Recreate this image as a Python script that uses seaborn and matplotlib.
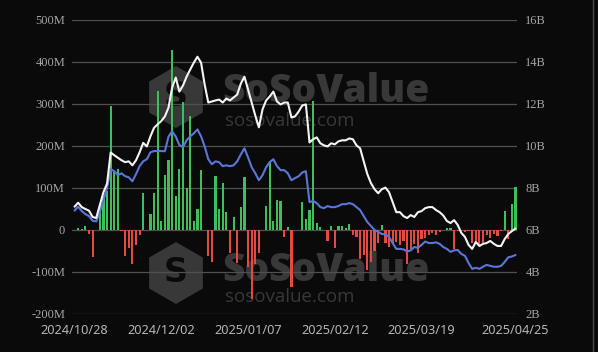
import numpy as np
import pandas as pd
import matplotlib
matplotlib.use('Agg')
import matplotlib.pyplot as plt
from matplotlib.patches import RegularPolygon
from matplotlib.lines import Line2D
import seaborn as sns

# trading days (US market holidays removed)
holidays = ['2024-11-28', '2024-12-25', '2025-01-01', '2025-01-09',
            '2025-01-20', '2025-02-17', '2025-04-18']
dates = pd.bdate_range('2024-10-28', '2025-04-25', freq='C', holidays=holidays)

# daily net flow, M USD
daily_flow = [-1, 4, 2, 10, -10, -64, 0, 62, 80, 92,
              295, 137, 145, -2, -61, -43, -82, -35, -13, 89,
              0, 38, 87, 332, 22, 130, 167, 429, 81, 146,
              305, 100, 271, 21, 49, 142, 0, -61, -76, 129,
              50, 113, 44, -55, 32, -79, 55, 126, -88, -165,
              -82, -55, 0, 58, 164, 22, 71, 68, -16, 8,
              -136, 0, 0, 66, 26, 48, 307, 16, 6, 0,
              -25, 10, -44, 10, 10, 5, 15, -12, -16, -70,
              -60, -95, -75, -50, -30, 12, -30, -40, -33, -28,
              -35, -25, -80, -45, -33, -55, -22, -18, -12, -8,
              -13, -5, 0, 4, 4, -45, -3, 0, -5, -3,
              -30, -25, -38, -30, -12, -20, -10, -15, -3, 45,
              -22, 62, 102]

# total net assets, B USD
total_assets = [7.11, 7.30, 7.09, 7.00, 6.92, 6.62, 6.57, 7.19, 7.80, 8.21,
                9.69, 9.56, 9.44, 9.32, 9.23, 9.27, 9.08, 9.32, 9.70, 10.15,
                9.98, 10.46, 10.87, 11.03, 11.19, 11.41, 11.83, 12.78, 13.26, 12.59,
                12.88, 13.30, 13.64, 13.97, 14.25, 13.97, 12.92, 12.07, 12.12, 12.17,
                12.21, 12.07, 12.26, 12.17, 12.31, 12.45, 12.97, 13.30, 12.69, 12.07,
                11.45, 10.89, 11.74, 12.17, 12.36, 12.59, 12.12, 11.98, 12.07, 12.07,
                11.36, 11.41, 11.64, 11.93, 11.98, 10.17, 10.32, 10.41, 10.13, 10.03,
                9.98, 10.13, 10.08, 10.22, 10.27, 10.27, 10.36, 10.32, 10.03, 9.89,
                9.27, 8.66, 8.23, 7.94, 7.75, 7.94, 8.02, 7.80, 7.33, 6.85,
                6.85, 6.66, 6.57, 6.71, 6.62, 6.85, 6.90, 7.04, 7.09, 7.09,
                6.95, 6.85, 6.69, 6.43, 6.33, 6.47, 6.24, 5.86, 5.67, 5.29,
                5.10, 5.43, 5.24, 5.34, 5.38, 5.48, 5.34, 5.24, 5.24, 5.57,
                5.81, 5.95, 6.07]

# cumulative net inflow, B USD
cum_inflow = [6.92, 7.11, 6.90, 6.76, 6.66, 6.44, 6.41, 6.85, 7.42, 7.99,
              8.89, 8.80, 8.61, 8.70, 8.56, 8.51, 8.32, 8.66, 9.04, 9.27,
              9.37, 9.70, 9.76, 9.76, 9.76, 9.75, 10.45, 10.70, 10.45, 10.05,
              9.94, 10.27, 10.46, 10.60, 10.79, 10.46, 9.98, 9.37, 9.13, 9.27,
              9.23, 9.04, 9.08, 9.04, 9.08, 9.27, 9.60, 9.89, 9.46, 8.99,
              8.70, 8.37, 8.61, 8.99, 9.23, 9.37, 9.04, 8.85, 8.85, 8.70,
              8.37, 8.47, 8.56, 8.74, 8.80, 7.33, 7.38, 7.28, 7.09, 7.04,
              7.14, 7.09, 7.09, 7.14, 7.23, 7.23, 7.28, 7.23, 7.09, 6.95,
              6.66, 6.38, 6.19, 6.00, 5.91, 5.81, 5.79, 5.67, 5.38, 5.10,
              5.10, 5.08, 4.98, 5.03, 5.19, 5.15, 5.29, 5.45, 5.38, 5.38,
              5.41, 5.34, 5.19, 5.10, 4.96, 5.03, 5.05, 4.86, 4.77, 4.43,
              4.15, 4.20, 4.15, 4.25, 4.34, 4.29, 4.25, 4.25, 4.29, 4.48,
              4.70, 4.74, 4.81]

left_ticks = [-200, -100, 0, 100, 200, 300, 400, 500]
left_labels = ['-200M', '-100M', '0', '100M', '200M', '300M', '400M', '500M']
right_ticks = [2, 4, 6, 8, 10, 12, 14, 16]
right_labels = ['2B', '4B', '6B', '8B', '10B', '12B', '14B', '16B']
label_idx = [0, 24, 48, 72, 96, 122]

bg = '#0a0a0a'
green = '#3fbf5a'
red = '#e5493f'
blue = '#5a76d6'
white = '#f4f4f4'
wm = '#383838'

sns.set_theme(style='dark', rc={'axes.facecolor': bg, 'figure.facecolor': bg})

fig = plt.figure(figsize=(5.98, 3.52), dpi=100, facecolor=bg)
ax = fig.add_axes([72/598, 1-314/352, (517-72)/598, (314-20)/352])
ax.set_facecolor('none')

# watermark behind the data
for cy, ty1, ty2 in [(97, 0.710, 0.642), (273, 0.203, 0.142)]:
    hexa = RegularPolygon((1.76, (352-cy)/100), numVertices=6, radius=0.31,
                          transform=fig.dpi_scale_trans, facecolor=wm, edgecolor='none', zorder=-2)
    fig.add_artist(hexa)
    fig.text(1.76/5.98, (352-cy)/352, 'S', ha='center', va='center', fontsize=24,
             fontweight='bold', color=bg, family='DejaVu Sans', zorder=-1)
    fig.text(222/598, ty1, 'SoSoValue', fontsize=28, fontweight='heavy', color=wm,
             family='Open Sans', va='baseline', zorder=-1)
    fig.text(225/598, ty2, 'sosovalue.com', fontsize=13.5, color=wm,
             family='Open Sans', va='baseline', zorder=-1)

df = pd.DataFrame({'date': dates.strftime('%Y/%m/%d'), 'flow': daily_flow})
df['sign'] = np.where(df['flow'] >= 0, 'in', 'out')
sns.barplot(data=df, x='date', y='flow', hue='sign', palette={'in': green, 'out': red},
            dodge=False, width=0.6, saturation=1, legend=False, ax=ax,
            linewidth=0, edgecolor='none')

ax2 = ax.twinx()
xs = np.arange(len(dates))
sns.lineplot(x=xs, y=cum_inflow, color=blue, lw=1.5, ax=ax2)
sns.lineplot(x=xs, y=total_assets, color=white, lw=1.5, ax=ax2)

ax.set_xlim(-0.7, 122.4)
ax.set_ylim(-200, 500)
ax2.set_ylim(2, 16)
ax.set_yticks(left_ticks)
ax.set_yticklabels(left_labels, family='Liberation Serif', fontsize=9, color='#a5a5a5')
ax2.set_yticks(right_ticks)
ax2.set_yticklabels(right_labels, family='Liberation Serif', fontsize=9, color='#a5a5a5')
ax.set_xticks(label_idx)
ax.set_xticklabels([dates[i].strftime('%Y/%m/%d') for i in label_idx],
                   family='Noto Sans', fontsize=9.2, color='#b5b5b5')
ax.set_xlabel('')
ax.set_ylabel('')
ax2.set_ylabel('')
ax.tick_params(axis='both', length=0)
ax.tick_params(axis='y', pad=5)
ax.tick_params(axis='x', pad=7)
ax2.tick_params(axis='y', length=0, pad=6)
ax.set_axisbelow(True)
ax.yaxis.grid(True, color='#505050', lw=0.9)
ax.xaxis.grid(False)
ax2.grid(False)
for a in (ax, ax2):
    for s in a.spines.values():
        s.set_visible(False)

fig.add_artist(Line2D([593/598, 593/598], [0, 1], transform=fig.transFigure, color='#4a4a4a', lw=1))

fig.savefig('out.png', dpi=100, facecolor=bg)
